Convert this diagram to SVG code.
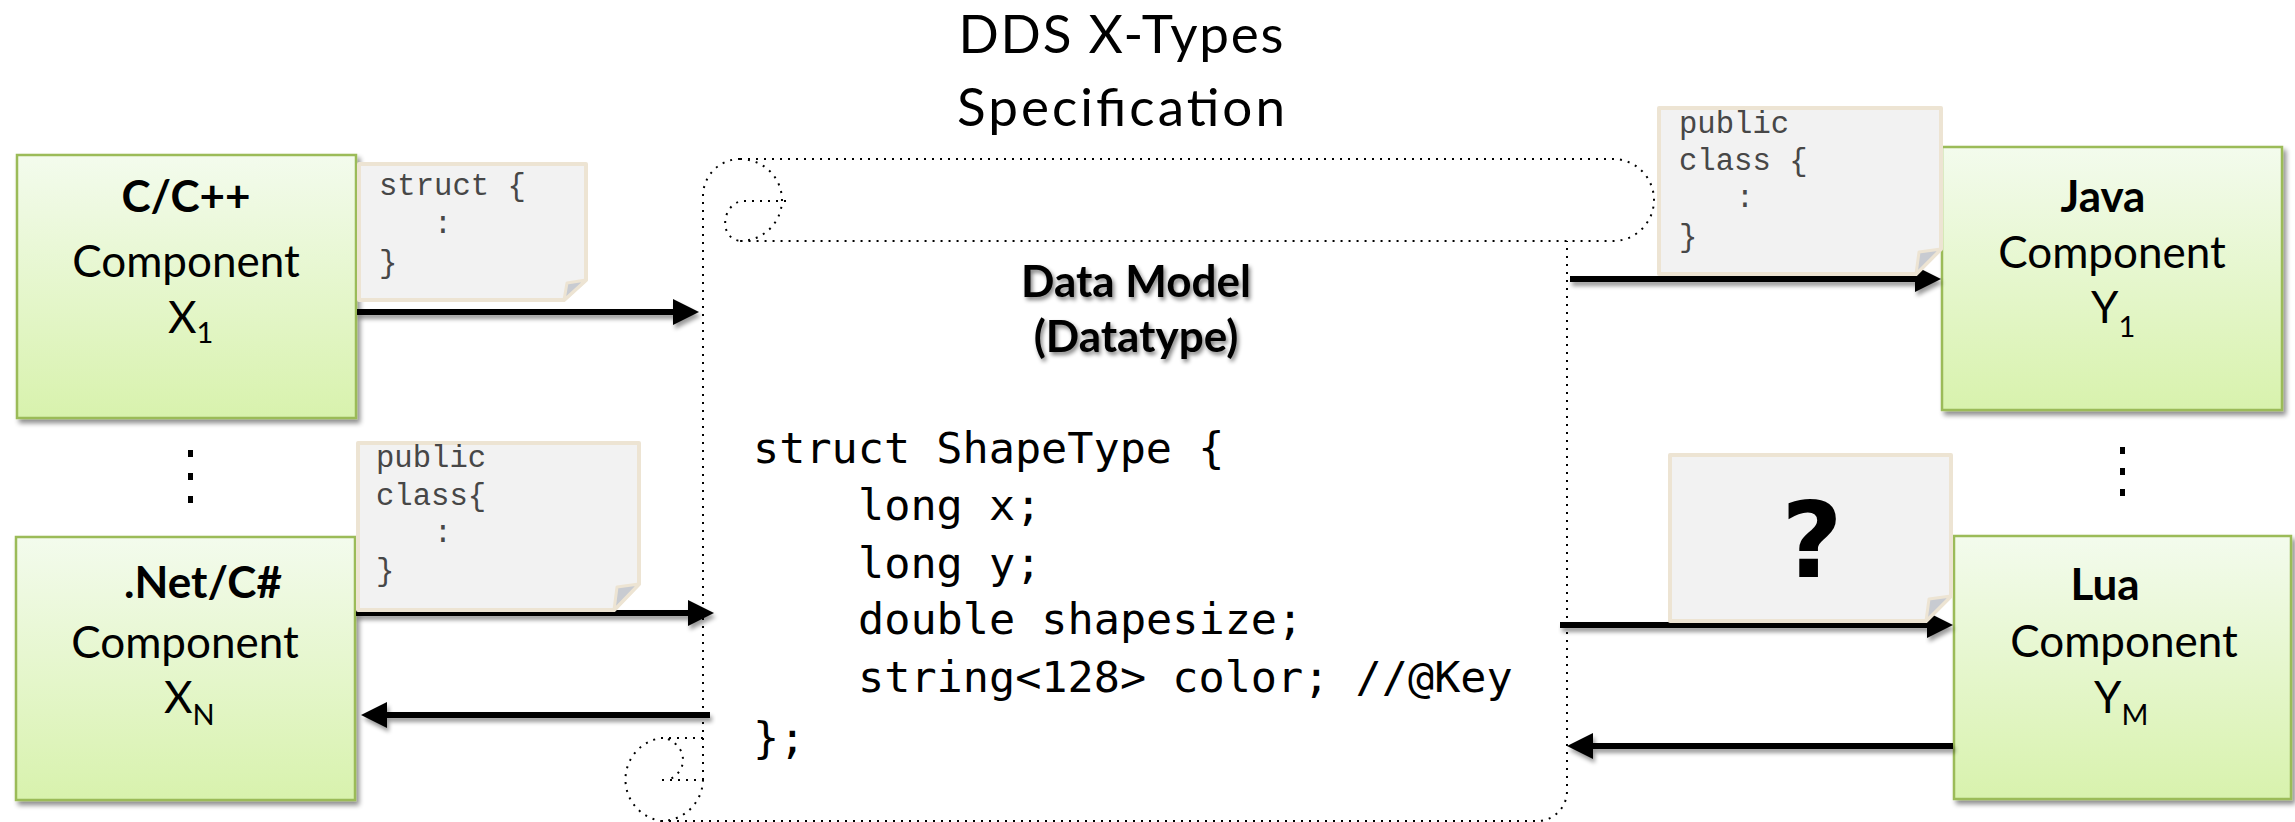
<svg xmlns="http://www.w3.org/2000/svg" width="2295" height="822" viewBox="0 0 2295 822">
  <style>
    .sans { font-family: Lato, "Open Sans", sans-serif; fill: #000; }
    .title { font-size: 53px; text-anchor: middle; }
    .lang { font-size: 44px; font-weight: bold; text-anchor: middle; }
    .label { font-size: 44px; text-anchor: middle; }
    .sym { font-size: 44px; }
    .sub { font-size: 29px; }
    .heading { font-size: 44px; font-weight: bold; text-anchor: middle; }
    .code { font-family: "DejaVu Sans Mono", "Liberation Mono", monospace; font-size: 43.5px; fill: #000; }
    .snip { font-family: "Liberation Mono", "Courier New", monospace; font-size: 30.6px; fill: #474747; }
    .box { stroke: #9bbb59; stroke-width: 2.5; fill: url(#boxFill); filter: url(#boxShadow); }
    .note { fill: #f2f2f2; stroke: #ede4d3; stroke-width: 4; stroke-linejoin: round; }
    .flap { fill: #c8cbd1; stroke: #ede4d3; stroke-width: 3; stroke-linejoin: round; }
    .scroll { fill: none; stroke: #000; stroke-width: 2; stroke-dasharray: 2 6; }
    .wire { fill: none; stroke: #000; stroke-width: 6; marker-end: url(#head); }
    .dot { fill: #000; }
  </style>
  <defs>
    <linearGradient id="boxFill" x1="0" y1="0" x2="0" y2="1">
      <stop offset="0" stop-color="#f3fbed"/>
      <stop offset="1" stop-color="#d8f2ad"/>
    </linearGradient>
    <filter id="boxShadow" x="-10%" y="-10%" width="125%" height="125%">
      <feGaussianBlur in="SourceAlpha" stdDeviation="2.5"/>
      <feOffset dx="3" dy="4" result="b"/>
      <feComponentTransfer><feFuncA type="linear" slope="0.45"/></feComponentTransfer>
      <feMerge><feMergeNode/><feMergeNode in="SourceGraphic"/></feMerge>
    </filter>
    <filter id="lineShadow" x="-5%" y="-100%" width="110%" height="400%">
      <feGaussianBlur in="SourceAlpha" stdDeviation="2"/>
      <feOffset dx="2" dy="4" result="b"/>
      <feComponentTransfer><feFuncA type="linear" slope="0.4"/></feComponentTransfer>
      <feMerge><feMergeNode/><feMergeNode in="SourceGraphic"/></feMerge>
    </filter>
    <filter id="textShadow" x="-10%" y="-20%" width="120%" height="150%">
      <feGaussianBlur in="SourceAlpha" stdDeviation="2"/>
      <feOffset dx="2" dy="3" result="b"/>
      <feComponentTransfer><feFuncA type="linear" slope="0.5"/></feComponentTransfer>
      <feMerge><feMergeNode/><feMergeNode in="SourceGraphic"/></feMerge>
    </filter>
    <marker id="head" markerUnits="userSpaceOnUse" markerWidth="26" markerHeight="26" refX="2" refY="13" orient="auto">
      <path d="M0,0 L26,13 L0,26 Z" fill="#000"/>
    </marker>
  </defs>

  <!-- heading -->
  <g id="title">
    <text class="sans title" x="1121" y="53" textLength="325">DDS X-Types</text>
    <text class="sans title" x="1121" y="126" textLength="328">Specification</text>
  </g>

  <!-- central scroll holding the shared type -->
  <g id="data-model">
    <path class="scroll" d="M740,159 H1613 A41,41 0 0 1 1613,241 H740
      M740,159 A37,37 0 0 0 703,196 V782
      M740,159 A42,41 0 0 1 740,241
      M786,201 H742 C722,204 718,238 740,241
      M703,738 H661 A42,42 0 0 0 661,821 A42,42 0 0 0 703,779
      M662,780 H703
      M668,739 C688,748 688,772 668,780
      M661,821 H1537 A30,30 0 0 0 1567,791 V241"/>
    <g filter="url(#textShadow)">
      <text class="sans heading" x="1136" y="297">Data Model</text>
      <text class="sans heading" x="1136" y="352">(Datatype)</text>
    </g>
    <text class="code" x="753" y="463">struct ShapeType {</text>
    <text class="code" x="858" y="520">long x;</text>
    <text class="code" x="858" y="578">long y;</text>
    <text class="code" x="858" y="634">double shapesize;</text>
    <text class="code" x="858" y="692">string&lt;128&gt; color; //@Key</text>
    <text class="code" x="753" y="753">};</text>
  </g>

  <!-- publishers / subscribers -->
  <g id="cpp-component">
    <rect class="box" x="17" y="155" width="339" height="263"/>
    <text class="sans lang" x="186" y="212">C/C++</text>
    <text class="sans label" x="186" y="277">Component</text>
    <text class="sans sym" x="168" y="333">X<tspan class="sub" dy="10">1</tspan></text>
  </g>

  <g id="left-ellipsis">
    <rect class="dot" x="188" y="450" width="5" height="7"/>
    <rect class="dot" x="188" y="473" width="5" height="7"/>
    <rect class="dot" x="188" y="496" width="5" height="7"/>
  </g>

  <g id="net-component">
    <rect class="box" x="16" y="537" width="339" height="263"/>
    <text class="sans lang" x="203" y="598">.Net/C#</text>
    <text class="sans label" x="185" y="658">Component</text>
    <text class="sans sym" x="164" y="713">X<tspan class="sub" dy="12">N</tspan></text>
  </g>

  <g id="java-component">
    <rect class="box" x="1942" y="147" width="340" height="263"/>
    <text class="sans lang" x="2103" y="212">Java</text>
    <text class="sans label" x="2112" y="268">Component</text>
    <text class="sans sym" x="2091" y="323">Y<tspan class="sub" dy="14">1</tspan></text>
  </g>

  <g id="right-ellipsis">
    <rect class="dot" x="2120" y="447" width="5" height="7"/>
    <rect class="dot" x="2120" y="468" width="5" height="7"/>
    <rect class="dot" x="2120" y="489" width="5" height="7"/>
  </g>

  <g id="lua-component">
    <rect class="box" x="1954" y="536" width="337" height="263"/>
    <text class="sans lang" x="2105" y="600">Lua</text>
    <text class="sans label" x="2124" y="657">Component</text>
    <text class="sans sym" x="2094" y="713">Y<tspan class="sub" dy="12">M</tspan></text>
  </g>

  <!-- data flows to and from the shared type -->
  <g id="connectors" filter="url(#lineShadow)">
    <path class="wire" d="M357,312 H675"/>
    <path class="wire" d="M356,613 H690"/>
    <path class="wire" d="M710,715 H385"/>
    <path class="wire" d="M1570,279 H1917"/>
    <path class="wire" d="M1560,625 H1929"/>
    <path class="wire" d="M1953,746 H1591"/>
  </g>

  <!-- language mappings, drawn as dog-eared notes -->
  <g id="cpp-note">
    <path class="note" d="M359,164 H586 V280 L564,300 H359 Z"/>
    <path class="flap" d="M586,280 L564,300 L567,283 Z"/>
    <text class="snip" x="379" y="195">struct {</text>
    <text class="snip" x="443" y="233" text-anchor="middle">:</text>
    <text class="snip" x="379" y="272">}</text>
  </g>

  <g id="net-note">
    <path class="note" d="M358,443 H639 V584 L614,610 H358 Z"/>
    <path class="flap" d="M639,584 L614,610 L617,587 Z"/>
    <text class="snip" x="376" y="467">public</text>
    <text class="snip" x="376" y="505">class{</text>
    <text class="snip" x="443" y="542" text-anchor="middle">:</text>
    <text class="snip" x="376" y="580">}</text>
  </g>

  <g id="java-note">
    <path class="note" d="M1659,108 H1941 V249 L1916,274 H1659 Z"/>
    <path class="flap" d="M1941,249 L1916,274 L1919,252 Z"/>
    <text class="snip" x="1679" y="133">public</text>
    <text class="snip" x="1679" y="170">class {</text>
    <text class="snip" x="1745" y="207" text-anchor="middle">:</text>
    <text class="snip" x="1679" y="246">}</text>
  </g>

  <g id="lua-note">
    <path class="note" d="M1670,455 H1951 V596 L1926,621 H1670 Z"/>
    <path class="flap" d="M1951,596 L1926,621 L1929,599 Z"/>
    <text x="1812" y="577" text-anchor="middle" style="font-family: 'DejaVu Sans', sans-serif; font-weight: bold; font-size: 106px; fill: #000;">?</text>
  </g>
</svg>
